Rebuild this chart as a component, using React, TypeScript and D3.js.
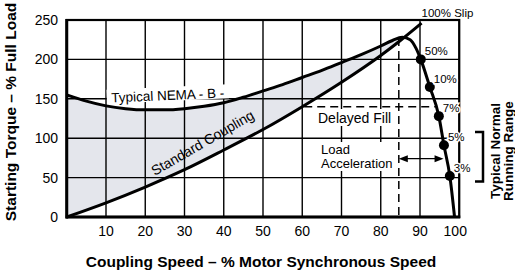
import React from 'react';
import * as d3 from 'd3';

// ---- data ----
const nemaSpeed = [0, 5, 10, 15, 20, 25, 30, 35, 40, 45, 50, 55, 60, 65, 70, 75, 80, 83, 85.5, 87.5, 89, 90.2, 92.5, 94.8, 96.1, 97.6, 98.8];
const nemaTorque = [155, 147, 141, 137.5, 136, 136, 137.5, 140.5, 145, 152, 160, 168, 177, 186, 196, 206, 217, 224, 228, 225, 214, 200, 165, 128, 91, 52, 0];

const stdSpeed = [0, 10, 20, 30, 40, 50, 60, 70, 80, 85, 90.4];
const stdTorque = [0, 18, 38, 60, 85, 111, 140, 171, 205, 224, 246];

const slipLabels = ['50%', '10%', '7%', '5%', '3%'];
const slipSpeed = [90.2, 92.5, 94.8, 96.1, 97.6];
const slipTorque = [200, 165, 128, 91, 52];

const xTicks = [10, 20, 30, 40, 50, 60, 70, 80, 90, 100];
const yTicks = [0, 50, 100, 150, 200, 250];

const fillEndSpeed = 85.5;
const delayedFillTorque = 140;
const delayedFillFrom = 60.5;
const delayedFillTo = 93.9;
const peakSpeed = 84.6;
const peakTorque = 227;
const accelTorque = 74;
const accelTo = 96;
const runningRangeTorque = [45, 108];

const FONT = '"Liberation Sans", Arial, Helvetica, sans-serif';

export default function App() {
  const W = 515, H = 272;
  const x = d3.scaleLinear().domain([0, 100]).range([66.75, 459.25]);
  const y = d3.scaleLinear().domain([0, 250]).range([217, 20]);

  const nema = nemaSpeed.map((s, i) => [s, nemaTorque[i]] as [number, number]);
  const std = stdSpeed.map((s, i) => [s, stdTorque[i]] as [number, number]);

  const line = d3.line<[number, number]>()
    .x(d => x(d[0]))
    .y(d => y(d[1]))
    .curve(d3.curveMonotoneX);

  const area = d3.area<[number, number]>()
    .x(d => x(d[0]))
    .y0(y(0))
    .y1(d => y(d[1]))
    .curve(d3.curveMonotoneX);

  const nemaSub = nema.filter(d => d[0] <= fillEndSpeed);
  const stdPath = line(std) as string;
  const lastStd = std[std.length - 1];
  const clipD = stdPath + `L${x(lastStd[0])},${y(250)}L${x(0)},${y(250)}Z`;

  const [x0, x1] = x.range();
  const [yb, yt] = y.range();

  const dotPts = slipSpeed.map((s, i) => ({ s, t: slipTorque[i], label: slipLabels[i] }));

  const ay = y(accelTorque);
  const ax0 = x(peakSpeed);
  const ax1 = x(accelTo);

  return (
    <svg width={W} height={H} style={{ position: 'absolute', left: 0, top: 0, background: '#fff' }}
      fontFamily={FONT}>
      <defs>
        <clipPath id="aboveStd">
          <path d={clipD} />
        </clipPath>
      </defs>
      <rect x={0} y={0} width={W} height={H} fill="#fff" />

      {/* shaded region */}
      <path d={area(nemaSub) as string} fill="#e4e6ec" clipPath="url(#aboveStd)" />

      {/* grid */}
      {xTicks.map(t => (
        <line key={'gx' + t} x1={x(t)} x2={x(t)} y1={yb} y2={yt} stroke="#000" strokeWidth={1.4} />
      ))}
      {yTicks.map(t => (
        <line key={'gy' + t} x1={x0} x2={x1} y1={y(t)} y2={y(t)} stroke="#000" strokeWidth={1.4} />
      ))}

      {/* frame */}
      <rect x={x0} y={yt} width={x1 - x0} height={yb - yt} fill="none" stroke="#000" strokeWidth={2.2} />
      <line x1={x0} x2={x0} y1={yt - 1} y2={yb + 1.5} stroke="#000" strokeWidth={3} />
      <line x1={x0 - 1} x2={x1 + 1} y1={yb} y2={yb} stroke="#000" strokeWidth={3} />

      {/* label backgrounds */}
      <g transform={`translate(168,100) rotate(-2.5)`}>
        <rect x={-61} y={-13} width={122} height={14} fill="#fff" />
      </g>
      <rect x={315} y={109} width={80} height={17} fill="#fff" />
      <rect x={318} y={142} width={79} height={29} fill="#fff" />

      {/* dashed lines */}
      <line x1={x(delayedFillFrom)} x2={x(delayedFillTo)} y1={y(delayedFillTorque)} y2={y(delayedFillTorque)}
        stroke="#000" strokeWidth={1.5} strokeDasharray="8,5" />
      <line x1={x(peakSpeed)} x2={x(peakSpeed)} y1={y(peakTorque)} y2={yb}
        stroke="#000" strokeWidth={1.5} strokeDasharray="8,5" />

      {/* curves */}
      <path d={line(nema) as string} fill="none" stroke="#000" strokeWidth={3} />
      <path d={stdPath} fill="none" stroke="#000" strokeWidth={3} />

      {/* slip points */}
      {dotPts.map(d => (
        <circle key={d.label} cx={x(d.s)} cy={y(d.t)} r={5} fill="#000" />
      ))}
      {dotPts.map(d => (
        <text key={'l' + d.label} x={x(d.s) + 4} y={y(d.t) - 4} fontSize={11.5} fill="#000"
          stroke="#fff" strokeWidth={3} paintOrder="stroke">{d.label}</text>
      ))}
      <text x={x(lastStd[0])} y={y(lastStd[1]) - 6} fontSize={11.5} fill="#000">100% Slip</text>

      {/* acceleration arrow */}
      <line x1={ax0 + 6} x2={ax1 - 6} y1={ay} y2={ay} stroke="#000" strokeWidth={1.3} />
      <path d={`M${ax0},${ay}L${ax0 + 9},${ay - 3.5}L${ax0 + 9},${ay + 3.5}Z`} fill="#000" />
      <path d={`M${ax1},${ay}L${ax1 - 9},${ay - 3.5}L${ax1 - 9},${ay + 3.5}Z`} fill="#000" />

      {/* annotation texts */}
      <text transform={`translate(168,100) rotate(-2.5)`} textAnchor="middle" fontSize={13.5}>Typical NEMA - B -</text>
      <text transform={`translate(205,147) rotate(-30)`} textAnchor="middle" fontSize={14}>Standard Coupling</text>
      <text x={318} y={122.5} fontSize={14}>Delayed Fill</text>
      <text x={321} y={153.5} fontSize={13}>Load</text>
      <text x={321} y={168} fontSize={13}>Acceleration</text>

      {/* ticks */}
      {yTicks.map(t => (
        <text key={'ty' + t} x={58} y={y(t) + 5} textAnchor="end" fontSize={14}>{t}</text>
      ))}
      {xTicks.map(t => (
        <text key={'tx' + t} x={x(t) - (t === 100 ? 4 : 0)} y={235.5} textAnchor="middle" fontSize={14}>{t}</text>
      ))}

      {/* axis titles */}
      <text x={261} y={267} textAnchor="middle" fontSize={15.5} fontWeight="bold">Coupling Speed – % Motor Synchronous Speed</text>
      <text transform={`translate(16,112) rotate(-90)`} textAnchor="middle" fontSize={15.5} fontWeight="bold">Starting Torque – % Full Load</text>

      {/* running range bracket */}
      <path d={`M475,${y(runningRangeTorque[1])}H483V${y(runningRangeTorque[0])}H475`} fill="none" stroke="#000" strokeWidth={2.5} />
      <text transform={`translate(500,151) rotate(-90)`} textAnchor="middle" fontSize={13.5} fontWeight="bold">Typical Normal</text>
      <text transform={`translate(513,151) rotate(-90)`} textAnchor="middle" fontSize={13.5} fontWeight="bold">Running Range</text>
    </svg>
  );
}
